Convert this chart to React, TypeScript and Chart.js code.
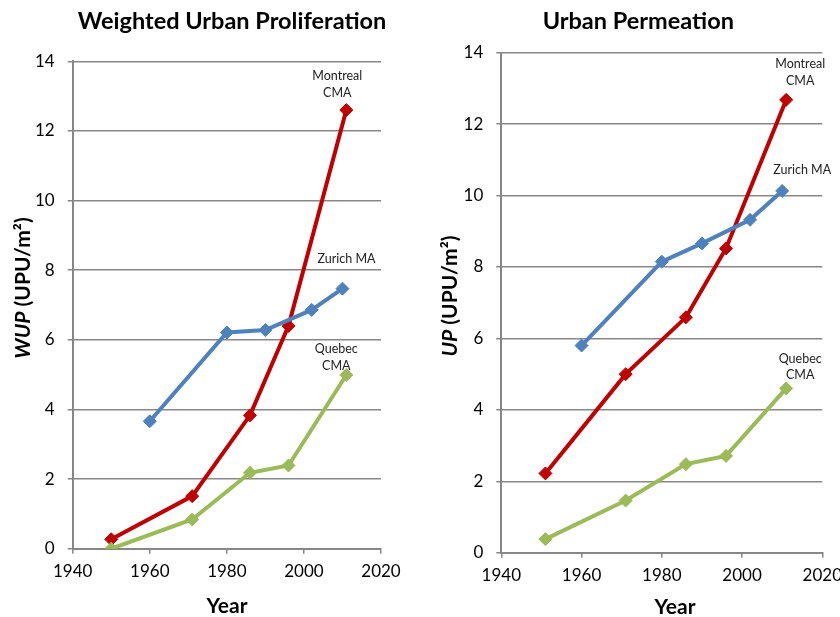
import React, { useEffect, useRef } from "react";
import { Chart, registerables } from "chart.js";

Chart.register(...registerables);

// ---- Data: Weighted Urban Proliferation (WUP) ----
const wupMontrealYears = [1950, 1971, 1986, 1996, 2011];
const wupMontreal = [0.27, 1.51, 3.83, 6.4, 12.6];
const wupZurichYears = [1960, 1980, 1990, 2002, 2010];
const wupZurich = [3.66, 6.21, 6.28, 6.86, 7.47];
const wupQuebecYears = [1950, 1971, 1986, 1996, 2011];
const wupQuebec = [0.0, 0.84, 2.18, 2.39, 4.99];

// ---- Data: Urban Permeation (UP) ----
const upMontrealYears = [1951, 1971, 1986, 1996, 2011];
const upMontreal = [2.22, 5.0, 6.59, 8.52, 12.68];
const upZurichYears = [1960, 1980, 1990, 2002, 2010];
const upZurich = [5.8, 8.15, 8.66, 9.32, 10.13];
const upQuebecYears = [1951, 1971, 1986, 1996, 2011];
const upQuebec = [0.38, 1.46, 2.48, 2.71, 4.6];

const xTicks = [1940, 1960, 1980, 2000, 2020];
const yTicks = [0, 2, 4, 6, 8, 10, 12, 14];

const FONT = "Lato, 'Open Sans', sans-serif";
const RED = "#C00000";
const BLUE = "#4F81BD";
const GREEN = "#9BBB59";
const GRID = "#878787";

type LabelSpec = { lines: string[]; dx: number; dys: number[] };

type PanelProps = {
  left: number;
  width: number;
  height: number;
  plot: { left: number; right: number; top: number; bottom: number };
  title: string;
  titlePos: [number, number];
  yTitleItalic: string;
  yTitleRest: string;
  yTitlePos: [number, number];
  xTitlePos: [number, number];
  series: { label: string; years: number[]; values: number[]; color: string; tag: LabelSpec }[];
};

function pts(years: number[], values: number[]) {
  return years.map((x, i) => ({ x, y: values[i] }));
}

function Panel(p: PanelProps) {
  const ref = useRef<HTMLCanvasElement | null>(null);
  useEffect(() => {
    if (!ref.current) return;
    const overlay = {
      id: "overlay",
      afterDraw(chart: any) {
        const ctx = chart.ctx as CanvasRenderingContext2D;
        ctx.save();
        ctx.fillStyle = "#000";
        ctx.textAlign = "center";
        ctx.textBaseline = "middle";
        ctx.font = `bold 23.5px ${FONT}`;
        ctx.fillText(p.title, p.titlePos[0], p.titlePos[1]);
        ctx.font = `bold 21px ${FONT}`;
        ctx.fillText("Year", p.xTitlePos[0], p.xTitlePos[1]);
        // y title with italic part
        ctx.save();
        ctx.translate(p.yTitlePos[0], p.yTitlePos[1]);
        ctx.rotate(-Math.PI / 2);
        const fi = `italic bold 21px ${FONT}`;
        const fn = `bold 21px ${FONT}`;
        ctx.font = fi;
        const w1 = ctx.measureText(p.yTitleItalic).width;
        ctx.font = fn;
        const w2 = ctx.measureText(p.yTitleRest).width;
        const start = -(w1 + w2) / 2;
        ctx.textAlign = "left";
        ctx.font = fi;
        ctx.fillText(p.yTitleItalic, start, 0);
        ctx.font = fn;
        ctx.fillText(p.yTitleRest, start + w1, 0);
        ctx.restore();
        // series end labels
        ctx.font = `12.5px ${FONT}`;
        ctx.fillStyle = "#222";
        ctx.textAlign = "center";
        chart.data.datasets.forEach((ds: any, i: number) => {
          const meta = chart.getDatasetMeta(i);
          const el = meta.data[meta.data.length - 1];
          const tag: LabelSpec = p.series.find((s) => s.label === ds.label)!.tag;
          tag.lines.forEach((line, k) => {
            ctx.fillText(line, el.x + tag.dx, el.y + tag.dys[k]);
          });
        });
        ctx.restore();
      },
    };
    const chart = new Chart(ref.current, {
      type: "line",
      data: {
        datasets: p.series.map((s) => ({
          label: s.label,
          data: pts(s.years, s.values),
          borderColor: s.color,
          backgroundColor: s.color,
          borderWidth: 4,
          pointStyle: "rectRot",
          pointRadius: 6.5,
          pointBorderWidth: 1,
          pointBackgroundColor: s.color,
          pointBorderColor: s.color,
          tension: 0,
          fill: false,
        })),
      },
      options: {
        responsive: false,
        animation: false,
        devicePixelRatio: 1,
        layout: {
          padding: { left: 0, right: p.width - p.plot.right, top: p.plot.top, bottom: 0 },
        },
        plugins: {
          legend: { display: false },
          tooltip: { enabled: false },
          title: { display: false },
        },
        scales: {
          x: {
            type: "linear",
            min: xTicks[0],
            max: xTicks[xTicks.length - 1],
            afterBuildTicks: (s: any) => {
              s.ticks = xTicks.map((v) => ({ value: v }));
            },
            ticks: {
              callback: (v: any) => String(v),
              font: { family: FONT, size: 17 },
              color: "#000",
              padding: 8,
              maxRotation: 0,
              autoSkip: false,
            },
            grid: { drawOnChartArea: false, drawTicks: true, tickLength: 5, color: GRID, lineWidth: 1.5 },
            border: { color: GRID, width: 2 },
            afterFit: (s: any) => {
              s.height = p.height - p.plot.bottom;
            },
          },
          y: {
            type: "linear",
            min: yTicks[0],
            max: yTicks[yTicks.length - 1],
            afterBuildTicks: (s: any) => {
              s.ticks = yTicks.map((v) => ({ value: v }));
            },
            ticks: {
              callback: (v: any) => String(v),
              font: { family: FONT, size: 17 },
              color: "#000",
              padding: 13,
            },
            grid: { color: GRID, lineWidth: 1.5, tickLength: 5 },
            border: { color: GRID, width: 2 },
            afterFit: (s: any) => {
              s.width = p.plot.left;
            },
          },
        },
      },
      plugins: [overlay],
    } as any);
    return () => chart.destroy();
  }, []);
  return (
    <canvas
      ref={ref}
      width={p.width}
      height={p.height}
      style={{ position: "absolute", left: p.left, top: 0, width: p.width, height: p.height }}
    />
  );
}

export default function App() {
  return (
    <div
      style={{
        position: "fixed",
        left: 0,
        top: 0,
        width: 840,
        height: 617,
        overflow: "hidden",
        background: "#fff",
      }}
    >
      <Panel
        left={0}
        width={420}
        height={617}
        plot={{ left: 72.7, right: 381, top: 61.3, bottom: 548.7 }}
        title="Weighted Urban Proliferation"
        titlePos={[232, 21]}
        yTitleItalic="WUP"
        yTitleRest=" (UPU/m²)"
        yTitlePos={[23.5, 288]}
        xTitlePos={[227, 606]}
        series={[
          { label: "Zurich MA", years: wupZurichYears, values: wupZurich, color: BLUE, tag: { lines: ["Zurich MA"], dx: 4, dys: [-30] } },
          { label: "Quebec CMA", years: wupQuebecYears, values: wupQuebec, color: GREEN, tag: { lines: ["Quebec", "CMA"], dx: -10, dys: [-26, -9] } },
          { label: "Montreal CMA", years: wupMontrealYears, values: wupMontreal, color: RED, tag: { lines: ["Montreal", "CMA"], dx: -9, dys: [-34, -17] } },
        ]}
      />
      <Panel
        left={420}
        width={440}
        height={617}
        plot={{ left: 81.3, right: 402.3, top: 52.7, bottom: 552.7 }}
        title="Urban Permeation"
        titlePos={[218.3, 21]}
        yTitleItalic="UP"
        yTitleRest=" (UPU/m²)"
        yTitlePos={[30.5, 296]}
        xTitlePos={[255, 607]}
        series={[
          { label: "Zurich MA", years: upZurichYears, values: upZurich, color: BLUE, tag: { lines: ["Zurich MA"], dx: 20, dys: [-21] } },
          { label: "Quebec CMA", years: upQuebecYears, values: upQuebec, color: GREEN, tag: { lines: ["Quebec", "CMA"], dx: 14, dys: [-29, -13] } },
          { label: "Montreal CMA", years: upMontrealYears, values: upMontreal, color: RED, tag: { lines: ["Montreal", "CMA"], dx: 14, dys: [-36, -19] } },
        ]}
      />
    </div>
  );
}
